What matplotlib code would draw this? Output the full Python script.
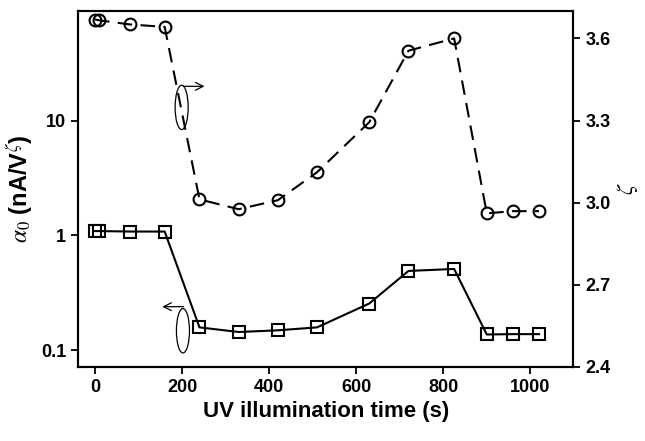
import matplotlib
matplotlib.use('Agg')
import matplotlib.pyplot as plt
from matplotlib.patches import Ellipse

plt.rcParams['font.family'] = ['Liberation Sans', 'DejaVu Sans']
plt.rcParams['mathtext.fontset'] = 'stix'

# UV illumination time (s)
time_s = [0, 10, 80, 160, 240, 330, 420, 510, 630, 720, 825, 900, 960, 1020]
# alpha_0 (nA/V^zeta), left log axis
alpha0 = [1.09, 1.09, 1.08, 1.08, 0.158, 0.144, 0.149, 0.158, 0.255, 0.49, 0.51, 0.137, 0.138, 0.138]
# zeta, right axis
zeta = [3.669, 3.666, 3.651, 3.642, 3.012, 2.976, 3.009, 3.111, 3.294, 3.555, 3.600, 2.961, 2.969, 2.969]

fig = plt.figure(figsize=(6.45, 4.41), dpi=100)
ax = fig.add_axes([0.121, 0.168, 0.768, 0.807])
ax2 = ax.twinx()

ax.plot(time_s, alpha0, color='black', linewidth=1.5, marker='s', markersize=8.5,
        markerfacecolor='none', markeredgewidth=1.5, zorder=3)
ax2.plot(time_s, zeta, color='black', linewidth=1.5, dashes=(7, 4), marker='o', markersize=8.5,
         markerfacecolor='none', markeredgewidth=1.5, zorder=3)

ax.set_yscale('log')
ax.set_xlim(-39, 1099)
ax.set_ylim(0.0715, 90)
ax2.set_ylim(2.4, 3.70)

ax.set_xticks([0, 200, 400, 600, 800, 1000])
ax.set_yticks([0.1, 1, 10])
ax.set_yticklabels(['0.1', '1', '10'])
ax.yaxis.set_minor_locator(matplotlib.ticker.NullLocator())
ax2.set_yticks([2.4, 2.7, 3.0, 3.3, 3.6])
ax2.set_yticklabels(['2.4', '2.7', '3.0', '3.3', '3.6'])

for a in (ax, ax2):
    a.tick_params(direction='out', length=5, width=1.3, labelsize=13)
    for lbl in a.get_xticklabels() + a.get_yticklabels():
        lbl.set_fontweight('bold')
    for sp in a.spines.values():
        sp.set_linewidth(1.5)

ax.set_xlabel('UV illumination time (s)', fontsize=16, fontweight='bold', labelpad=4)
ax.set_ylabel(r'$\alpha_0$ (nA/V$^{\zeta}$)', fontsize=17, fontweight='bold', labelpad=4)
ax2.set_ylabel(r'$\zeta$', fontsize=16, labelpad=3)

# ellipses with arrows marking which axis each curve belongs to
ax2.add_patch(Ellipse((199, 3.348), 30, 0.162, fill=False, edgecolor='black', linewidth=0.9, zorder=4))
ax2.annotate('', xy=(258, 3.425), xytext=(197, 3.425),
             arrowprops=dict(arrowstyle='->', color='black', lw=0.9, mutation_scale=14))
ax2.add_patch(Ellipse((202, 2.532), 30, 0.162, fill=False, edgecolor='black', linewidth=0.9, zorder=4))
ax2.annotate('', xy=(148, 2.620), xytext=(210, 2.620),
             arrowprops=dict(arrowstyle='->', color='black', lw=0.9, mutation_scale=14))

fig.savefig('out.png', dpi=100)
